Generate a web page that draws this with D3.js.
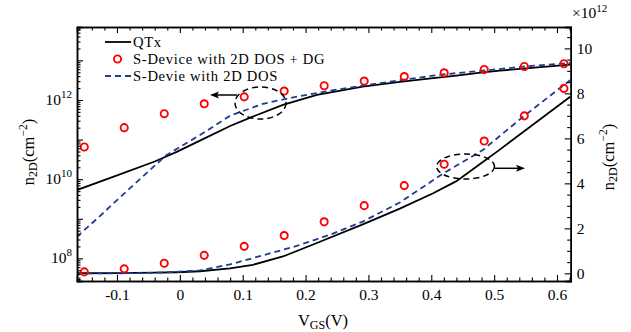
<!DOCTYPE html>
<html>
<head>
<meta charset="utf-8">
<script src="https://cdn.jsdelivr.net/npm/d3@7"></script>
<style>
  body { margin: 0; background: #fff; }
  text { font-family: "Liberation Serif", "DejaVu Serif", serif; fill: #000; }
</style>
</head>
<body>
<svg id="chart" width="631" height="332"></svg>
<script>
// n2D values are in units of 1e12 cm^-2 (right axis); left axis shows the same data on a log scale
const vgsQtx = [-0.164, -0.103, -0.04, -0.005, 0.032, 0.08, 0.116, 0.164, 0.218, 0.291, 0.35, 0.403, 0.44, 0.482, 0.509, 0.621];
const nQtx   = [0.0053, 0.012, 0.028, 0.049, 0.094, 0.22, 0.38, 0.75, 1.35, 2.18, 2.88, 3.56, 4.1, 4.95, 5.5, 7.85];

const vgsDos = [-0.164, -0.129, -0.095, -0.06, -0.021, 0.032, 0.08, 0.132, 0.186, 0.239, 0.291, 0.35, 0.419, 0.482, 0.546, 0.621];
const nDos   = [0.00035, 0.0011, 0.0035, 0.0113, 0.041, 0.13, 0.4, 0.8, 1.22, 1.72, 2.3, 3.15, 4.44, 5.48, 6.96, 8.59];

const vgsDg = [-0.152, -0.0885, -0.0248, 0.0388, 0.1024, 0.166, 0.2296, 0.2933, 0.357, 0.4205, 0.4842, 0.548, 0.611];
const nDg   = [0.065, 0.2, 0.45, 0.8, 1.2, 1.68, 2.29, 3.01, 3.9, 4.85, 5.88, 7.0, 8.22];

const xTickLabels = [-0.1, 0, 0.1, 0.2, 0.3, 0.4, 0.5, 0.6];
const leftDecades = [8, 9, 10, 11, 12, 13];
const leftLabelled = [8, 10, 12];
const rightTickLabels = [0, 2, 4, 6, 8, 10];

const legendNames = ['QTx', 'S-Device with 2D DOS + DG', 'S-Devie with 2D DOS'];

const svg = d3.select('#chart');
const pL = 77, pR = 570.7, pT = 27, pB = 281;

const x = d3.scaleLinear().domain([-0.1636, 0.6218]).range([pL, pR]);
const yLog = d3.scaleLog().domain([Math.pow(10, 7.429), Math.pow(10, 13.843)]).range([pB, pT]);
const yLin = d3.scaleLinear().domain([-0.34, 10.95]).range([pB, pT]);

const blue = '#1f3b93';

svg.append('defs').append('clipPath').attr('id', 'plotclip')
  .append('rect').attr('x', pL).attr('y', pT).attr('width', pR - pL).attr('height', pB - pT);

const plot = svg.append('g').attr('clip-path', 'url(#plotclip)');

const logLine = d3.line().x(d => x(d[0])).y(d => yLog(d[1] * 1e12));
const linLine = d3.line().x(d => x(d[0])).y(d => yLin(d[1]));

const qtx = d3.zip(vgsQtx, nQtx);
const dos = d3.zip(vgsDos, nDos);
const dg = d3.zip(vgsDg, nDg);

[logLine, linLine].forEach(lineGen => {
  plot.append('path').datum(qtx)
    .attr('d', lineGen).attr('fill', 'none')
    .attr('stroke', '#000').attr('stroke-width', 1.8);
  plot.append('path').datum(dos)
    .attr('d', lineGen).attr('fill', 'none')
    .attr('stroke', blue).attr('stroke-width', 1.8)
    .attr('stroke-dasharray', '6,4');
});

plot.selectAll('circle.log').data(dg).enter().append('circle')
  .attr('class', 'log')
  .attr('cx', d => x(d[0])).attr('cy', d => yLog(d[1] * 1e12)).attr('r', 3.6)
  .attr('fill', 'none').attr('stroke', '#f00').attr('stroke-width', 1.9);
plot.selectAll('circle.lin').data(dg).enter().append('circle')
  .attr('class', 'lin')
  .attr('cx', d => x(d[0])).attr('cy', d => yLin(d[1])).attr('r', 3.6)
  .attr('fill', 'none').attr('stroke', '#f00').attr('stroke-width', 1.9);

// annotation ellipses + arrows
const ann = svg.append('g').attr('fill', 'none').attr('stroke', '#000').attr('stroke-width', 1.5);
ann.append('ellipse').attr('cx', 260.5).attr('cy', 103).attr('rx', 25.5).attr('ry', 16)
  .attr('stroke-dasharray', '6,4');
ann.append('ellipse').attr('cx', 465.5).attr('cy', 166.5).attr('rx', 29).attr('ry', 12.5)
  .attr('stroke-dasharray', '6,4');
ann.append('line').attr('x1', 237).attr('y1', 95).attr('x2', 213).attr('y2', 95);
ann.append('line').attr('x1', 495).attr('y1', 168.3).attr('x2', 521).attr('y2', 168.3);
svg.append('path').attr('d', 'M210,95 L219,91.5 L217,95 L219,98.5 Z').attr('fill', '#000');
svg.append('path').attr('d', 'M525,168.3 L516,164.8 L518,168.3 L516,171.8 Z').attr('fill', '#000');

// axes
const fs = 15.5;
const xMinor = d3.range(-0.16, 0.6219, 0.02).filter(v => Math.abs(Math.round(v * 10) - v * 10) > 1e-6);

svg.append('g').attr('transform', `translate(0,${pB})`)
  .call(d3.axisBottom(x).tickValues(xTickLabels).tickSize(-6).tickPadding(8)
    .tickFormat(d => d === 0 ? '0' : d3.format('.1f')(d).replace('−', '-')));
svg.append('g').attr('transform', `translate(0,${pB})`)
  .call(d3.axisBottom(x).tickValues(xMinor).tickSize(-3.5).tickFormat(''));
svg.append('g').attr('transform', `translate(0,${pT})`)
  .call(d3.axisTop(x).tickValues(xTickLabels).tickSize(-6).tickFormat(''));
svg.append('g').attr('transform', `translate(0,${pT})`)
  .call(d3.axisTop(x).tickValues(xMinor).tickSize(-3.5).tickFormat(''));

const logMajor = leftDecades.map(e => Math.pow(10, e));
const logMinor = [];
[7, 8, 9, 10, 11, 12, 13].forEach(e => {
  d3.range(2, 10).forEach(m => {
    const v = m * Math.pow(10, e);
    if (v >= yLog.domain()[0] && v <= yLog.domain()[1]) logMinor.push(v);
  });
});

svg.append('g').attr('transform', `translate(${pL},0)`)
  .call(d3.axisLeft(yLog).tickValues(logMajor).tickSize(-6).tickPadding(5).tickFormat(''));
svg.append('g').attr('transform', `translate(${pL},0)`)
  .call(d3.axisLeft(yLog).tickValues(logMinor).tickSize(-3.5).tickFormat(''));

const rMinor = d3.range(0, 11, 0.5).filter(v => v % 2 !== 0);
svg.append('g').attr('transform', `translate(${pR},0)`)
  .call(d3.axisRight(yLin).tickValues(rightTickLabels).tickSize(-6).tickPadding(6));
svg.append('g').attr('transform', `translate(${pR},0)`)
  .call(d3.axisRight(yLin).tickValues(rMinor).tickSize(-3.5).tickFormat(''));

svg.selectAll('.domain').attr('stroke', '#000').attr('stroke-width', 1.5);
svg.selectAll('.tick line').attr('stroke', '#000').attr('stroke-width', 1.1);
svg.selectAll('.tick text').attr('font-family', '"Liberation Serif", serif').attr('font-size', fs).attr('fill', '#000');

// log labels with superscripts
leftLabelled.forEach(e => {
  const t = svg.append('text')
    .attr('x', pL - 5).attr('y', yLog(Math.pow(10, e)) + 5)
    .attr('text-anchor', 'end').attr('font-size', fs);
  t.append('tspan').text('10');
  t.append('tspan').attr('font-size', 11).attr('dy', -7).text(String(e));
});

// top-right multiplier
const mult = svg.append('text').attr('x', 572).attr('y', 18).attr('font-size', fs);
mult.append('tspan').text('×10');
mult.append('tspan').attr('font-size', 11).attr('dy', -6).text('12');

// axis titles
const xt = svg.append('text').attr('x', 323).attr('y', 326).attr('text-anchor', 'middle').attr('font-size', 16.5);
xt.append('tspan').text('V');
xt.append('tspan').attr('font-size', 12).attr('dy', 3).text('GS');
xt.append('tspan').attr('dy', -3).text('(V)');

function nLabel(g) {
  g.append('tspan').text('n');
  g.append('tspan').attr('font-size', 12).attr('dy', 3).text('2D');
  g.append('tspan').attr('dy', -3).text('(cm');
  g.append('tspan').attr('font-size', 11.5).attr('dy', -7).text('−2');
  g.append('tspan').attr('dy', 7).text(')');
}
nLabel(svg.append('text').attr('transform', 'translate(34,152) rotate(-90)').attr('text-anchor', 'middle').attr('font-size', 16.5));
nLabel(svg.append('text').attr('transform', 'translate(614,157) rotate(-90)').attr('text-anchor', 'middle').attr('font-size', 16.5));

// legend
const lg = svg.append('g');
const rows = [42, 59, 76];
lg.append('line').attr('x1', 105).attr('x2', 131).attr('y1', rows[0]).attr('y2', rows[0])
  .attr('stroke', '#000').attr('stroke-width', 1.8);
lg.append('circle').attr('cx', 117.5).attr('cy', rows[1]).attr('r', 3.6)
  .attr('fill', 'none').attr('stroke', '#f00').attr('stroke-width', 1.9);
lg.append('line').attr('x1', 105).attr('x2', 131).attr('y1', rows[2]).attr('y2', rows[2])
  .attr('stroke', blue).attr('stroke-width', 1.8).attr('stroke-dasharray', '6,4');
legendNames.forEach((name, i) => {
  lg.append('text').attr('x', 133).attr('y', rows[i] + 5).attr('font-size', 14.6)
    .attr('letter-spacing', 0.7).text(name);
});
</script>
</body>
</html>
